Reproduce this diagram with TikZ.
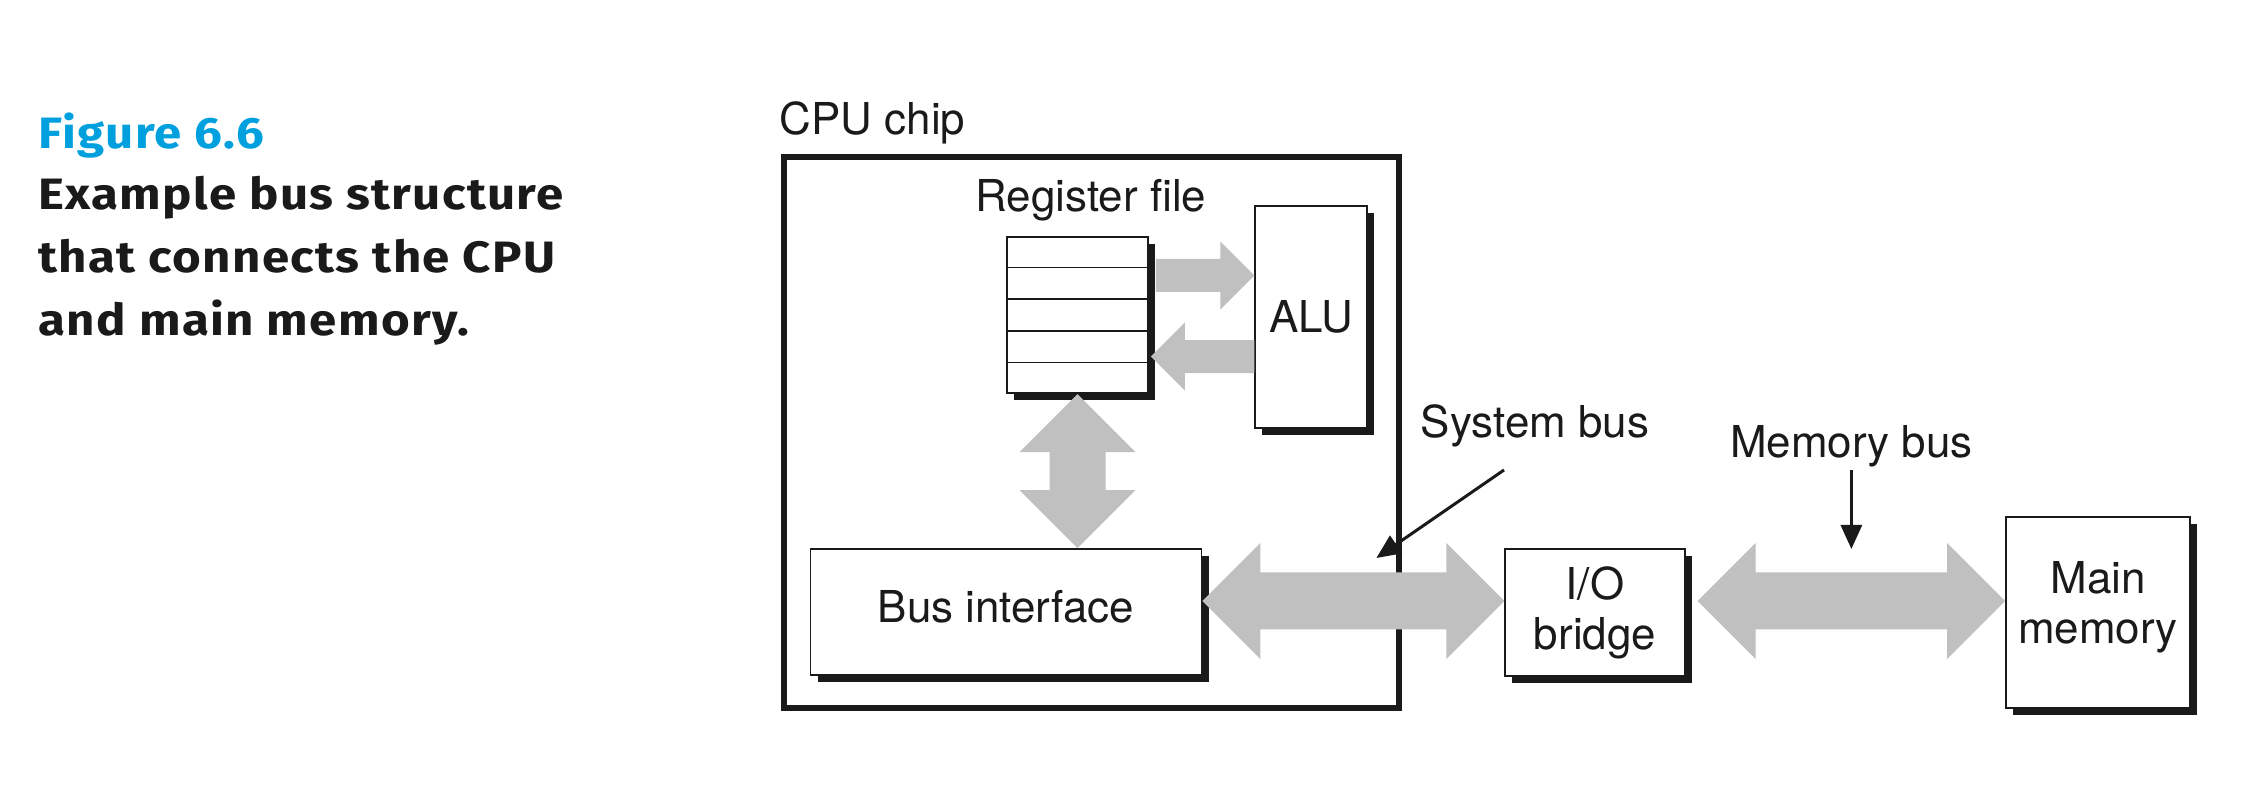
\documentclass[tikz,border=0pt]{standalone}
\usepackage{fontspec}
\setmainfont{TeX Gyre Heros}
\newfontfamily\capfont[FakeStretch=1.12, LetterSpace=3]{Fira Sans}
\usetikzlibrary{calc,shadows,arrows.meta}
\definecolor{figblue}{RGB}{0,160,222}
\definecolor{busgray}{RGB}{192,192,192}
\definecolor{ink}{RGB}{26,26,26}

\begin{document}
\begin{tikzpicture}[line join=miter, >={Triangle[length=0.24cm, width=0.21cm]}, font=\fontsize{12.5}{14.2}\selectfont, color=ink,
	box/.style={draw=ink, line width=0.5pt, fill=white, inner sep=0pt, align=center,
		drop shadow={shadow xshift=0.07cm, shadow yshift=-0.07cm, fill=ink, opacity=1}},
	chip/.style={draw=ink, line width=1.6pt, inner sep=0pt},
	capline/.style={font=\capfont\bfseries\fontsize{12.5}{15}\selectfont, anchor=base west, inner sep=0pt},
	lbl/.style={anchor=base, inner sep=0pt},
	ptr/.style={line width=0.85pt, ->}]
			\path[fill=white, use as bounding box] (0,0) rectangle (22.46,7.94);
			
			% 1. Caption on the left
			\node[capline, text=figblue] (fignum) at (0.38,6.45) {Figure 6.6};
			\foreach \t [count=\i] in {Example bus structure, that connects the CPU, and main memory.}
				\node[capline] (cap\i) at (0.38,{6.47-0.63*\i}) {\t};
			
			% 2. CPU chip frame
			\node[chip, minimum width=6.15cm, minimum height=5.51cm] (cpu) at (10.915,3.615) {};
			\node[lbl, anchor=base west] (chipl) at (7.79,6.59) {CPU chip};
			
			% 3. Boxes
			\node[box, minimum width=1.41cm, minimum height=1.563cm] (reg) at (10.775,4.79) {};
			\foreach \k in {1,...,4}
				\draw[line width=0.5pt] ($(reg.north west)!{\k/5}!(reg.south west)$) -- ($(reg.north east)!{\k/5}!(reg.south east)$);
			\node[lbl] (regl) at (10.91,5.823) {Register file};
			\node[box, minimum width=1.117cm, minimum height=2.223cm] (alu) at (13.11,4.77) {ALU};
			\node[box, minimum width=3.91cm, minimum height=1.26cm, text depth=0.12cm] (bus) at (10.06,1.82) {Bus interface};
			\node[box, minimum width=1.795cm, minimum height=1.27cm] (bridge) at (15.95,1.815) {I/O\\bridge};
			\node[box, minimum width=1.84cm, minimum height=1.916cm, text depth=0.2cm] (mem) at (20.98,1.815) {Main\\memory};
			
			% 4. Gray bus arrows
			\def\hbus#1#2{\fill[busgray] (#1) -- ++(0.58,0.58) -- ++(0,-0.295) -- ($(#2)+(-0.58,0.285)$) -- ++(0,0.295) -- (#2) -- ++(-0.58,-0.58) -- ++(0,0.295) -- ($(#1)+(0.58,-0.285)$) -- ++(0,-0.295) -- cycle;}
			\coordinate (busy) at (0,1.93);
			\coordinate (sysL) at (bus.east |- busy);
			\coordinate (sysR) at (bridge.west |- busy);
			\coordinate (memL) at ($(bridge.east |- busy)+(0.12,0)$);
			\coordinate (memR) at (mem.west |- busy);
			\hbus{sysL}{sysR}
			\hbus{memL}{memR}
			
			% register file <-> bus interface
			\coordinate (regB) at (reg.south |- bus.north);
			\fill[busgray] (reg.south) -- ++(0.58,-0.58) -- ++(-0.3,0) -- ($(regB)+(0.28,0.58)$) -- ++(0.3,0) -- (regB) -- ++(-0.58,0.58) -- ++(0.3,0) -- ($(reg.south)+(-0.28,-0.58)$) -- ++(-0.3,0) -- cycle;
			
			% register file -> ALU, ALU -> register file
			\coordinate (raT) at ($(reg.north east)+(0.07,-0.395)$);
			\coordinate (raH) at (alu.west |- raT);
			\fill[busgray] ($(raT)+(0,0.165)$) -- ($(raH)+(-0.34,0.165)$) -- ++(0,0.175) -- (raH) -- ++(-0.34,-0.34) -- ++(0,0.175) -- ($(raT)+(0,-0.165)$) -- cycle;
			\coordinate (arH) at ($(reg.north east)+(0.02,-1.206)$);
			\coordinate (arT) at (alu.west |- arH);
			\fill[busgray] ($(arT)+(0,0.165)$) -- ($(arH)+(0.34,0.165)$) -- ++(0,0.175) -- (arH) -- ++(0.34,-0.34) -- ++(0,0.175) -- ($(arT)+(0,-0.165)$) -- cycle;
			
			% 5. Bus labels with pointers
			\coordinate (systip) at ($(sysR)+(-1.28,0.43)$);
			\coordinate (memtip) at ($(memL)!0.5!(memR)+(0,0.52)$);
			\node[lbl] (sysl) at (15.35,3.56) {System bus};
			\node[lbl] (meml) at ($(memtip)+(0,0.91)$) {Memory bus};
			\draw[ptr] ([xshift=-0.31cm,yshift=-0.32cm]sysl.base) -- (systip);
			\draw[ptr] ([yshift=-0.12cm]meml.base) -- (memtip);
\end{tikzpicture}
\end{document}
